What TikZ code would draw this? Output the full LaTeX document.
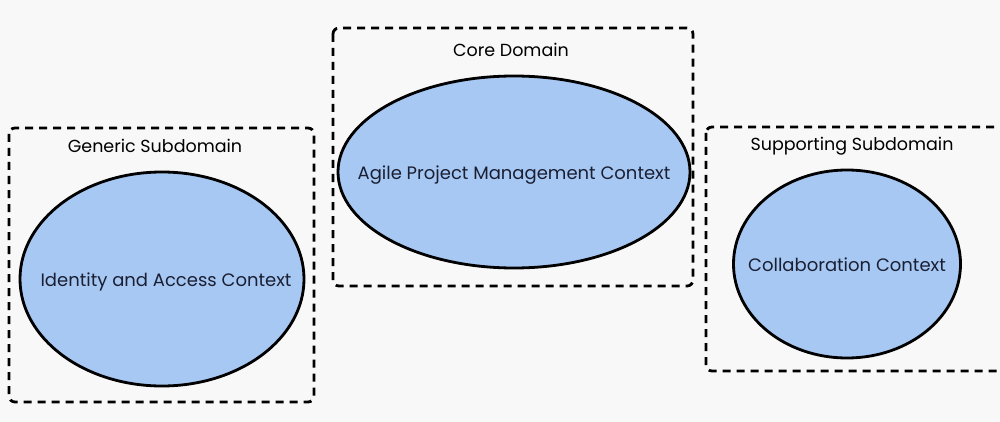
\documentclass[tikz,border=0pt]{standalone}
\usepackage{fontspec}
\setmainfont{Poppins}
\usetikzlibrary{shapes.geometric}
\definecolor{bgc}{HTML}{F8F8F8}
\definecolor{ellc}{HTML}{A7C8F3}
\definecolor{txtc}{HTML}{1A1F33}
\begin{document}
\begin{tikzpicture}[x=1pt,y=-1pt,
  domainbox/.style={draw=black, line width=2.8pt, dash pattern=on 8pt off 6pt, rounded corners=6pt},
  ctxell/.style={ellipse, draw=black, line width=2.8pt, fill=ellc, inner sep=0pt},
  ctxtext/.style={text=txtc, font=\fontsize{18}{21}\selectfont},
  titletext/.style={text=black, font=\fontsize{17.5}{21}\selectfont}]
\useasboundingbox (0,0) rectangle (1000,422);
\clip (0,0) rectangle (1000,422);
\fill[bgc] (0,0) rectangle (1000,422);
% boxes
\draw[domainbox] (9,128) rectangle (314,402);
\draw[domainbox] (333,28) rectangle (693,286);
\draw[domainbox] (706,127) rectangle (1012,371);
% titles
\node[titletext] (gtitle) at (155,146) {Generic Subdomain};
\node[titletext] (ctitle) at (511,50) {Core Domain};
\node[titletext] (stitle) at (852,146) {Supporting Subdomain};
% ellipses
\node[ctxell, minimum width=284pt, minimum height=214pt] (iam) at (162,279) {};
\node[ctxtext] at ([xshift=4pt,yshift=-3pt]iam.center) {Identity and Access Context};
\node[ctxell, minimum width=352pt, minimum height=192pt] (apm) at (514,172) {};
\node[ctxtext] at ([yshift=-3pt]apm.center) {Agile Project Management Context};
\node[ctxell, minimum width=227pt, minimum height=188pt] (col) at (847,264) {};
\node[ctxtext] at ([yshift=-1pt]col.center) {Collaboration Context};
\end{tikzpicture}
\end{document}
